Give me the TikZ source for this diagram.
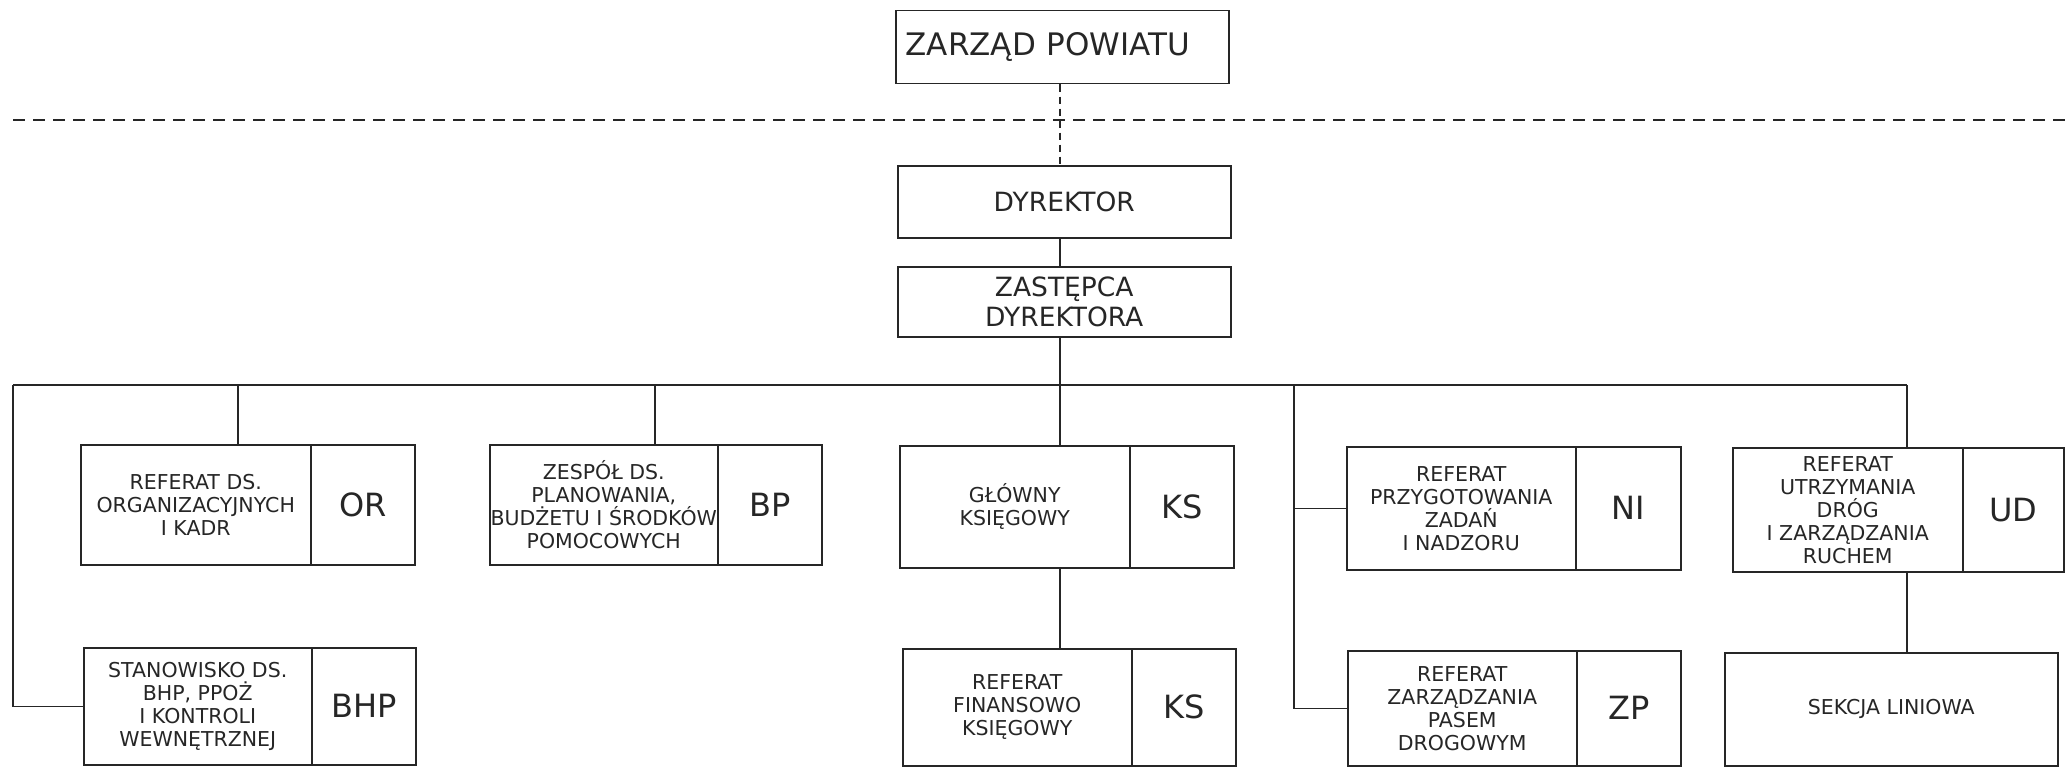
\documentclass[tikz,border=0pt]{standalone}
\usepackage{fontspec}
\setmainfont{DejaVu Sans}
\definecolor{ink}{RGB}{38,38,38}
\begin{document}
\begin{tikzpicture}[x=1pt,y=-1pt]
\tikzset{
  box/.style={draw=ink, line width=1.5pt, inner sep=0pt, align=center, text=ink,
    anchor=north west, font=\fontsize{20.5}{23}\selectfont},
  codebox/.style={box, font=\fontsize{32}{34}\selectfont},
  headbox/.style={box, font=\fontsize{26.5}{30}\selectfont},
  conn/.style={draw=ink, line width=1.5pt},
  dashh/.style={conn, dash pattern=on 12pt off 8pt},
  dashv/.style={conn, dash pattern=on 7pt off 5pt}
}
\useasboundingbox (0,0) rectangle (2070,768);
\fill[white] (0,0) rectangle (2070,768);

% top
\node[box, minimum height=73, text width=313, inner xsep=10pt, align=left,
  font=\fontsize{31}{34}\selectfont] (zarzad) at (895,10) {ZARZĄD POWIATU};
\node[headbox, minimum width=333, minimum height=72] (dyr) at (897,165) {DYREKTOR};
\node[headbox, minimum width=333, minimum height=70] (zast) at (897,266) {ZASTĘPCA\\DYREKTORA};

% row 1
\node[box, minimum width=230, minimum height=120] (or) at (80,444) {REFERAT DS.\\ORGANIZACYJNYCH\\I KADR};
\node[codebox, minimum width=104, minimum height=120] (orc) at (310,444) {OR};
\node[box, minimum width=228, minimum height=120] (bp) at (489,444) {ZESPÓŁ DS.\\PLANOWANIA,\\BUDŻETU I ŚRODKÓW\\POMOCOWYCH};
\node[codebox, minimum width=104, minimum height=120] (bpc) at (717,444) {BP};
\node[box, minimum width=230, minimum height=122] (ks) at (899,445) {GŁÓWNY\\KSIĘGOWY};
\node[codebox, minimum width=104, minimum height=122] (ksc) at (1129,445) {KS};
\node[box, minimum width=229, minimum height=123] (ni) at (1346,446) {REFERAT\\PRZYGOTOWANIA\\ZADAŃ\\I NADZORU};
\node[codebox, minimum width=105, minimum height=123] (nic) at (1575,446) {NI};
\node[box, minimum width=230, minimum height=124] (ud) at (1732,447) {REFERAT\\UTRZYMANIA\\DRÓG\\I ZARZĄDZANIA\\RUCHEM};
\node[codebox, minimum width=101, minimum height=124] (udc) at (1962,447) {UD};

% row 2
\node[box, minimum width=228, minimum height=117] (bhp) at (83,647) {STANOWISKO DS.\\BHP, PPOŻ\\I KONTROLI\\WEWNĘTRZNEJ};
\node[codebox, minimum width=104, minimum height=117] (bhpc) at (311,647) {BHP};
\node[box, minimum width=229, minimum height=117] (ks2) at (902,648) {REFERAT\\FINANSOWO\\KSIĘGOWY};
\node[codebox, minimum width=104, minimum height=117] (ks2c) at (1131,648) {KS};
\node[box, minimum width=229, minimum height=115] (zp) at (1347,650) {REFERAT\\ZARZĄDZANIA\\PASEM\\DROGOWYM};
\node[codebox, minimum width=104, minimum height=115] (zpc) at (1576,650) {ZP};
\node[box, minimum width=333, minimum height=113] (sek) at (1724,652) {SEKCJA LINIOWA};

% coordinates
\coordinate (spine) at (1060,0);
\coordinate (dl) at (13,120);
\coordinate (dr) at (2066,120);
\coordinate (busL) at (13,385);
\coordinate (busR) at (1907,385);
\coordinate (tOR) at (238,385);
\coordinate (tBP) at (655,385);
\coordinate (tNI) at (1294,385);

% connectors
\draw[dashh] (dl) -- (dr);
\draw[dashv] (spine |- zarzad.south) -- (spine |- dyr.north);
\draw[conn] (spine |- dyr.south) -- (spine |- zast.north);
\draw[conn] (spine |- zast.south) -- (spine |- ks.north);
\draw[conn] (busL) -- (busR);
\draw[conn] (busL) |- (bhp.west);
\draw[conn] (tOR) -- (tOR |- or.north);
\draw[conn] (tBP) -- (tBP |- bp.north);
\draw[conn] (tNI) |- (zp.west);
\draw[conn] (tNI |- ni.west) -- (ni.west);
\draw[conn] (busR) -- (busR |- ud.north);
\draw[conn] (busR |- ud.south) -- (busR |- sek.north);
\draw[conn] (spine |- ks.south) -- (spine |- ks2.north);
\end{tikzpicture}
\end{document}
